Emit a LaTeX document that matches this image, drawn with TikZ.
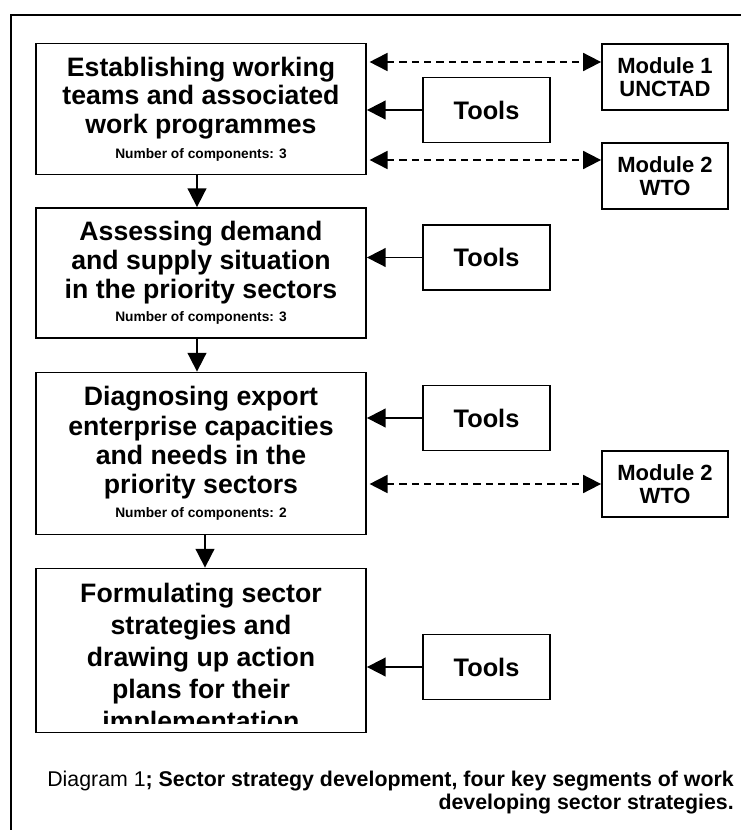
\documentclass[tikz,border=0pt]{standalone}
\usepackage{fontspec}
\setmainfont{Liberation Sans}
\usetikzlibrary{arrows.meta, positioning, calc}
\newcommand{\toolLink}[2]
{
	\draw[link] (#1.west) -- (#1.west -| #2.east)
}
\newcommand{\moduleLink}[3]
{
	\path (#2.west) ++(0,#1) coordinate (mtmp);
	\draw[dlink] (mtmp -| #3.east) -- (mtmp)
}

\begin{document}
\begin{tikzpicture}[x=0.75pt, y=-0.75pt,
			stage/.style={draw=black, line width=1.35pt, inner sep=0pt,
				minimum width=247.5pt, align=center,
				font=\bfseries\fontsize{20}{21.5}\selectfont},
			tool/.style={draw=black, line width=1.35pt, inner sep=0pt,
				minimum width=95.25pt, minimum height=48.75pt,
				font=\bfseries\fontsize{19}{21}\selectfont},
			module/.style={draw=black, line width=1.35pt, inner sep=0pt,
				minimum width=94.5pt, minimum height=49.5pt, align=center,
				font=\bfseries\fontsize{16.5}{17.25}\selectfont},
			link/.style={line width=1.35pt, -{Triangle[length=14pt, width=14pt]}},
			dlink/.style={line width=1.35pt, dash pattern=on 5.5pt off 3.75pt, shorten <=2pt,
				{Triangle[length=13.5pt, width=13.5pt]}-{Triangle[length=13.5pt, width=13.5pt]}},
			caption/.style={align=right, inner sep=0pt,
				font=\bfseries\fontsize{16}{17.25}\selectfont}]
	\useasboundingbox (0, 0) rectangle (741, 830);
	\draw[line width=1.35pt] (11, 830) -- (11, 15) -- (741, 15);

	% four work segments
	\node[stage, minimum height=98.25pt] at (201, 109) (S1){Establishing working\\teams and associated\\work programmes\\[-3pt]{\fontsize{10.3}{12}\selectfont Number of components: 3}};
	\node[stage, minimum height=97.5pt] at (201, 273) (S2){Assessing demand\\and supply situation\\in the priority sectors\\[-4pt]{\fontsize{10.3}{12}\selectfont Number of components: 3}};
	\node[stage, minimum height=121.5pt, font=\bfseries\fontsize{20}{22}\selectfont] at (201, 453.5) (S3){Diagnosing export\\enterprise capacities\\and needs in the\\priority sectors\\[-4pt]{\fontsize{10.3}{12}\selectfont Number of components: 2}};
	\node[stage, minimum height=123pt] at (201, 650.5) (S4){};
	\begin{scope}
		\clip (S4.north west) rectangle ([yshift=7.5pt]S4.south east);
		\node[stage, draw=none, font=\bfseries\fontsize{20}{24}\selectfont] at (201, 660) (S4text){Formulating sector\\strategies and\\drawing up action\\plans for their\\implementation};
	\end{scope}

	% tools and modules
	\node[tool] at (486.5, 110) (T1){Tools};
	\node[tool] at (486.5, 257.5) (T2){Tools};
	\node[tool] at (486.5, 418) (T3){Tools};
	\node[tool] at (486.5, 667) (T4){Tools};
	\node[module] at (665, 77) (M1){Module 1\\UNCTAD};
	\node[module] at (665, 176) (M2){Module 2\\WTO};
	\node[module] at (665, 484) (M3){Module 2\\WTO};

	\draw[link] ([xshift=-3pt]S1.south) -- ([xshift=-3pt]S2.north);
	\draw[link] ([xshift=-3pt]S2.south) -- ([xshift=-3pt]S3.north);
	\draw[link] ([xshift=3pt]S3.south) -- ([xshift=3pt]S4.north);
	\toolLink{T1}{S1};
	\toolLink{T2}{S2};
	\toolLink{T3}{S3};
	\toolLink{T4}{S4};
	\moduleLink{-15}{M1}{S1};
	\moduleLink{-16}{M2}{S1};
	\moduleLink{0}{M3}{S3};

	\node[caption, anchor=east] at (734, 793) (cap){{\mdseries Diagram 1}; Sector strategy development, four key segments of work\\developing sector strategies.};
\end{tikzpicture}
\end{document}
